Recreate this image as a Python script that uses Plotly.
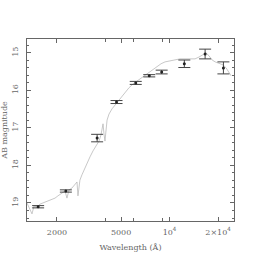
import plotly.graph_objects as go

# Photometric points (GALEX, SDSS, 2MASS)
phot_wave = [1528, 2271, 3551, 4686, 6166, 7480, 8932, 12350, 16620, 21590]
phot_mag = [19.10, 18.68, 17.27, 16.31, 15.80, 15.61, 15.51, 15.29, 15.03, 15.40]
phot_err = [0.03, 0.03, 0.10, 0.04, 0.04, 0.03, 0.05, 0.10, 0.13, 0.16]

# Model spectrum
spec_wave = [1303, 1360, 1400, 1440, 1503, 1568, 1636, 1709, 1783, 1862, 1945, 2028,
             2118, 2179, 2244, 2307, 2377, 2480, 2588, 2663, 2700, 2777, 2858, 2944,
             3070, 3207, 3350, 3494, 3648, 3750, 3864, 3917, 3972, 4093, 4208, 4396,
             4585, 4789, 5000, 5286, 5598, 5928, 6281, 6653, 7047, 7453, 7894, 8356,
             8851, 9376, 10070, 10810, 11610, 12470, 13400, 14390, 15240, 16140, 16840,
             17590, 18370, 19190, 20300, 21480, 22440, 23390, 24080]
spec_mag = [19.00, 19.19, 19.29, 19.08, 19.11, 19.03, 19.00, 18.95, 18.92, 18.89, 18.87, 18.81,
            18.76, 18.73, 18.68, 18.87, 18.65, 18.60, 18.52, 18.44, 18.81, 18.39, 18.25, 18.12,
            17.96, 17.77, 17.61, 17.48, 17.35, 17.19, 16.89, 17.16, 17.35, 16.79, 16.63, 16.49,
            16.39, 16.28, 16.17, 16.04, 15.93, 15.83, 15.75, 15.67, 15.59, 15.51, 15.43, 15.37,
            15.29, 15.24, 15.21, 15.19, 15.16, 15.16, 15.16, 15.16, 15.11, 15.05, 15.00,
            15.08, 15.19, 15.24, 15.27, 15.32, 15.40, 15.51, 15.61]

x_tickvals = [2000, 5000, 10000, 20000]
x_ticktext = ["2000", "5000", "10<sup>4</sup>", "2×10<sup>4</sup>"]
y_tickvals = [15, 16, 17, 18, 19]

font_family = "DejaVu Serif"
grey = "#666666"

fig = go.Figure()
fig.add_trace(go.Scatter(x=spec_wave, y=spec_mag, mode="lines",
                         line=dict(color="#b0b0b0", width=0.7), showlegend=False))
fig.add_trace(go.Scatter(x=phot_wave, y=phot_mag, mode="markers",
                         marker=dict(color="#222222", size=3),
                         error_y=dict(type="data", array=phot_err, color="#444444",
                                      thickness=1, width=6),
                         showlegend=False))

fig.update_layout(
    width=262, height=262,
    margin=dict(l=27, r=28, t=39, b=41, autoexpand=False),
    paper_bgcolor="white", plot_bgcolor="white",
    font=dict(family=font_family, size=8, color=grey),
    xaxis=dict(type="log", range=[3.115, 4.400], automargin=False,
               tickvals=x_tickvals, ticktext=x_ticktext,
               ticks="inside", ticklen=4, tickcolor=grey,
               showline=True, linecolor=grey, linewidth=1, mirror="ticks",
               showgrid=False, zeroline=False, ticklabelstandoff=3,
               title=dict(text="Wavelength (Å)", standoff=8, font=dict(size=8)),
               minor=dict(tickvals=[4000, 6000, 9000], ticks="inside", ticklen=3,
                          tickcolor=grey)),
    yaxis=dict(range=[19.48, 14.63], automargin=False,
               tickvals=y_tickvals, tickangle=-90,
               ticks="inside", ticklen=4, tickcolor=grey,
               showline=True, linecolor=grey, linewidth=1, mirror="ticks",
               showgrid=False, zeroline=False, ticklabelstandoff=5,
               title=dict(text="AB magnitude", standoff=1, font=dict(size=8)),
               minor=dict(dtick=0.2, ticks="inside", ticklen=2, tickcolor=grey)),
)

fig.write_html("out.html", config={"displayModeBar": False},
               post_script="document.body.style.margin='0';")
